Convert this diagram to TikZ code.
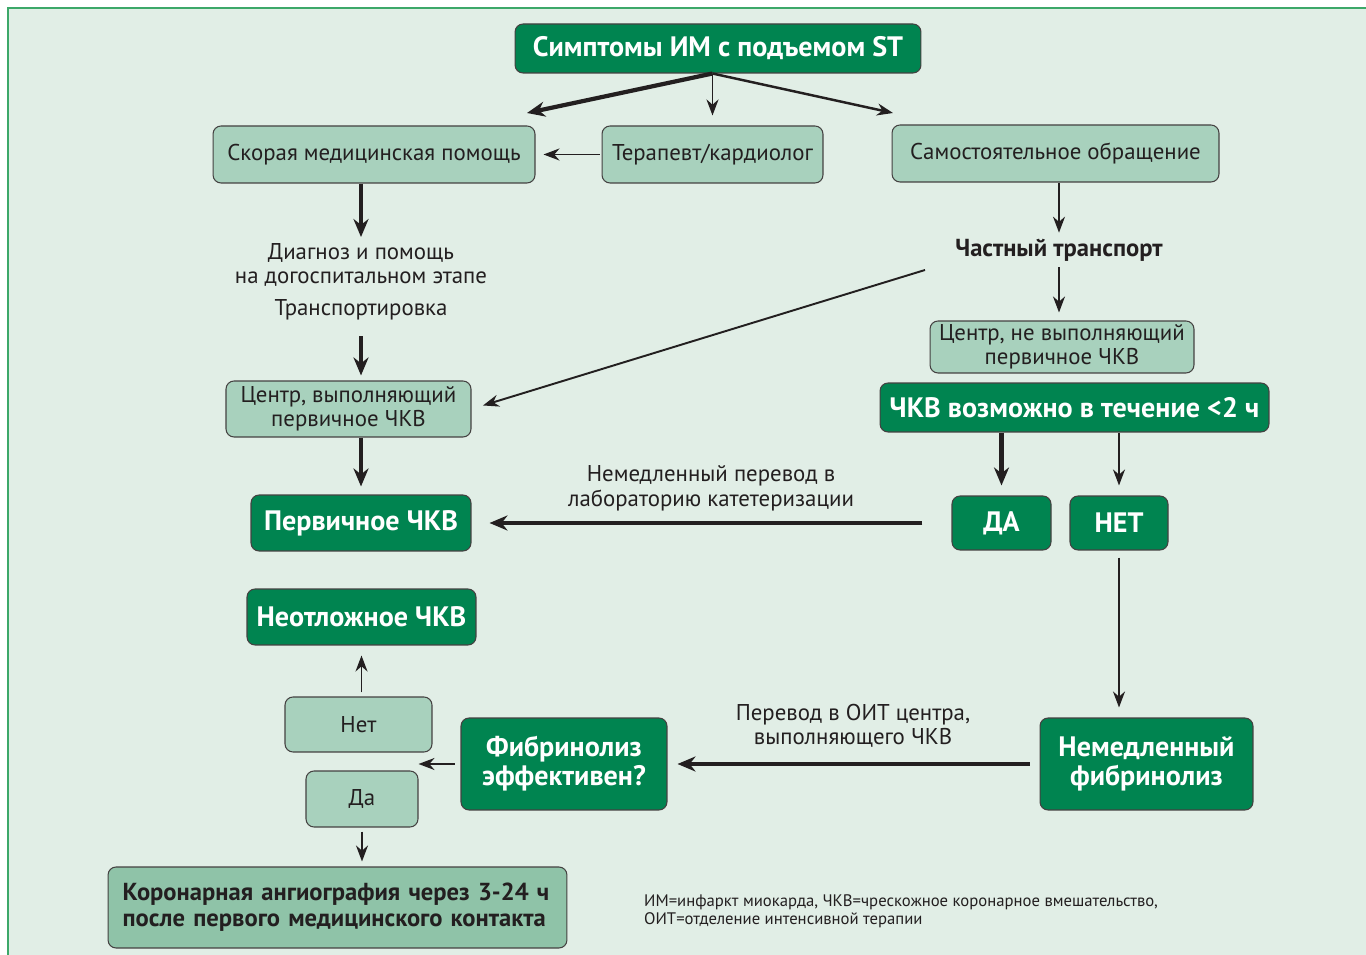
\documentclass[tikz,border=0pt]{standalone}
\usepackage{fontspec}
\setmainfont{PT Sans}
\usetikzlibrary{arrows.meta,calc}
\definecolor{darkgreen}{RGB}{0,132,80}
\definecolor{lightgreen}{RGB}{168,209,189}
\definecolor{midgreen}{RGB}{143,195,168}
\definecolor{panelbg}{RGB}{225,238,230}
\definecolor{panelline}{RGB}{60,168,105}
\definecolor{inkgray}{RGB}{35,31,32}
\tikzset{
  darkbox/.style={draw=inkgray!85, line width=0.6pt, fill=darkgreen, rounded corners=0.16cm,
    text=white, font=\fontsize{16}{16.5}\selectfont\bfseries, align=center, inner sep=0pt},
  lightbox/.style={draw=inkgray!85, line width=0.6pt, fill=lightgreen, rounded corners=0.16cm,
    text=inkgray, font=\fontsize{13}{13.8}\selectfont, align=center, inner sep=0pt},
  plaintext/.style={text=inkgray, font=\fontsize{13}{14}\selectfont, align=center},
  thinarrow/.style={draw=inkgray, line width=1.1pt, -{Stealth[length=0.32cm,width=0.24cm]}},
  thickarrow/.style={draw=inkgray, line width=2.4pt, -{Stealth[length=0.36cm,width=0.3cm]}},
}

\begin{document}
\begin{tikzpicture}[x=0.02cm, y=-0.02cm]
		%%%%% START %%%%%
		\useasboundingbox (0,0) rectangle (1366,955);
		\fill[panelbg] (8,8) rectangle (1366,955);
		\draw[panelline, line width=1.2pt] (8,955) -- (8,8) -- (1366,8);
		
		% top row
		\node[darkbox, minimum width=8.12cm, minimum height=0.98cm] (top) at (718,48.5) {Симптомы ИМ с подъемом ST};
		\node[lightbox, minimum width=6.44cm, minimum height=1.14cm] (amb) at (374,154.5) {Скорая медицинская помощь};
		\node[lightbox, minimum width=4.42cm, minimum height=1.14cm] (ter) at (712.5,154.5) {Терапевт/кардиолог};
		\node[lightbox, minimum width=6.54cm, minimum height=1.14cm] (self) at (1055.5,153.5) {Самостоятельное обращение};
		
		% left column
		\node[plaintext] (diag) at (361,265) {Диагноз и помощь\\на догоспитальном этапе};
		\node[plaintext] (trans) at (361,310) {Транспортировка};
		\node[lightbox, minimum width=4.9cm, minimum height=1.12cm] (c1) at (348.5,409) {Центр, выполняющий\\первичное ЧКВ};
		\node[darkbox, minimum width=4.4cm, minimum height=1.12cm] (prim) at (361,523) {Первичное ЧКВ};
		
		% right column
		\node[plaintext, font=\fontsize{14}{15}\selectfont\bfseries] (priv) at (1059,250) {Частный транспорт};
		\node[lightbox, minimum width=5.28cm, minimum height=1.04cm] (c2) at (1062,347) {Центр, не выполняющий\\первичное ЧКВ};
		\node[darkbox, minimum width=7.78cm, minimum height=0.98cm] (pci2) at (1074.5,407.5) {ЧКВ возможно в течение <2 ч};
		\node[darkbox, minimum width=1.98cm, minimum height=1.08cm] (yes) at (1001.5,523) {ДА};
		\node[darkbox, minimum width=1.96cm, minimum height=1.08cm] (no) at (1119,523) {НЕТ};
		\node[plaintext] (lab) at (711,488) {Немедленный перевод в\\лабораторию катетеризации};
		
		% bottom part
		\node[darkbox, minimum width=4.58cm, minimum height=1.12cm] (urgent) at (361.5,617) {Неотложное ЧКВ};
		\node[lightbox, minimum width=2.94cm, minimum height=1.1cm] (net) at (358.5,724.5) {Нет};
		\node[lightbox, minimum width=2.24cm, minimum height=1.12cm] (da) at (362,799) {Да};
		\node[darkbox, minimum width=4.12cm, minimum height=1.84cm] (eff) at (564,764) {Фибринолиз\\эффективен?};
		\node[darkbox, minimum width=4.26cm, minimum height=1.84cm] (fibnow) at (1146.5,764) {Немедленный\\фибринолиз};
		\node[plaintext] (icu) at (853,726) {Перевод в ОИТ центра,\\выполняющего ЧКВ};
		\node[lightbox, fill=midgreen, align=left, font=\fontsize{14}{15}\selectfont\bfseries,
		  text width=8.6cm, inner xsep=0.29cm, minimum height=1.62cm] (cor) at (337.5,907.5)
		  {Коронарная ангиография через 3-24 ч\\после первого медицинского контакта};
		\node[plaintext, anchor=west, align=left, font=\fontsize{9.5}{10.5}\selectfont] (note) at (638,911)
		  {ИМ=инфаркт миокарда, ЧКВ=чрескожное коронарное вмешательство,\\ОИТ=отделение интенсивной терапии};
		
		% arrows
		\coordinate (fork) at (top.south -| ter);
		\coordinate (ambin) at (527,113);
		\coordinate (selfin) at (893,113);
		\coordinate (pvt) at (925,270);
		\draw[thickarrow] (fork) -- (ambin);
		\draw[thinarrow, shorten >=0.2cm] (fork) -- (ter.north);
		\draw[thinarrow, line width=1.4pt] (fork) -- (selfin);
		\draw[thinarrow, shorten <=0.04cm, shorten >=0.16cm] (ter.west) -- (amb.east);
		
		\draw[thickarrow] (amb.south -| diag) -- (diag.north);
		\draw[thickarrow, shorten <=0.2cm, shorten >=0.1cm] (trans.south) -- (trans.south |- c1.north);
		\draw[thickarrow, shorten >=0.16cm] (c1.south -| prim) -- (prim.north);
		
		\draw[thinarrow] (self.south -| priv) -- (priv.north);
		\draw[thinarrow, shorten >=0.16cm] (priv.south) -- (priv.south |- c2.north);
		\draw[thinarrow, shorten >=0.24cm] (pvt) -- (c1.east);
		\draw[thickarrow, shorten >=0.2cm] (yes.north |- pci2.south) -- (yes.north);
		\draw[thinarrow, shorten >=0.2cm] (no.north |- pci2.south) -- (no.north);
		\draw[thickarrow, shorten <=0.58cm, shorten >=0.36cm] (yes.west) -- (prim.east);
		\draw[thinarrow, shorten <=0.14cm, shorten >=0.2cm] (no.south) -- (no.south |- fibnow.north);
		
		\draw[thickarrow, shorten <=0.2cm, shorten >=0.2cm] (fibnow.west) -- (eff.east);
		\draw[thinarrow, shorten <=0.12cm] (eff.west) -- (eff.west -| da.east);
		\draw[thinarrow, shorten <=0.08cm, shorten >=0.2cm] (net.north -| urgent) -- (urgent.south);
		\draw[thinarrow, shorten <=0.08cm, shorten >=0.1cm] (da.south) -- (da.south |- cor.north);
		%%%%% END %%%%%
\end{tikzpicture}
\end{document}
